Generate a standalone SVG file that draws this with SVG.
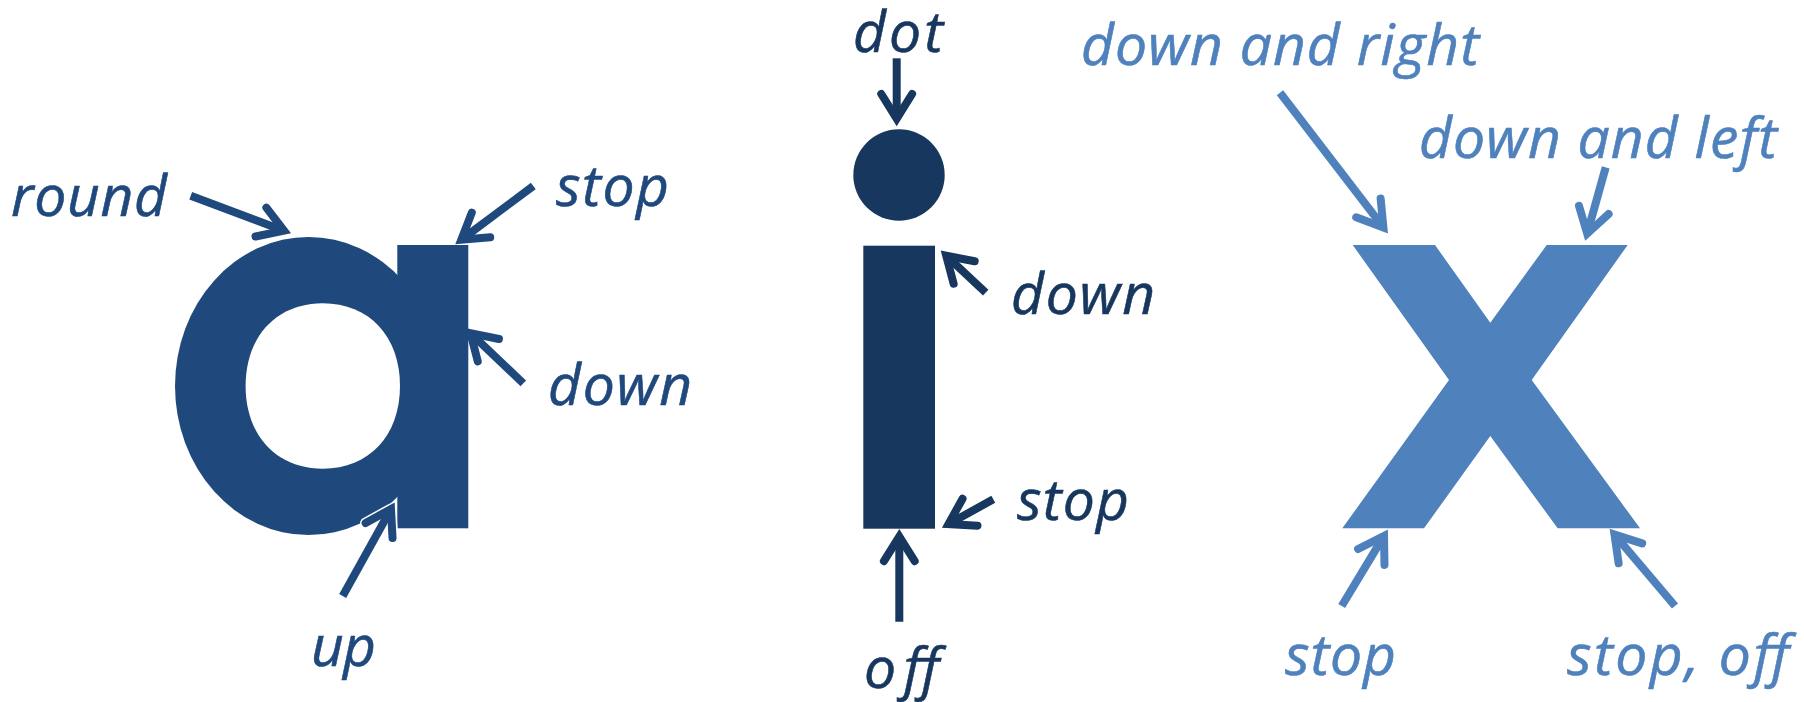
<svg xmlns="http://www.w3.org/2000/svg" width="1804" height="702" viewBox="0 0 1804 702">
  <style>
    text { font-family: "Open Sans", "Liberation Sans", sans-serif; font-style: italic; font-size: 57px; stroke-width: 0.6; }
    .ca { fill: #1F497D; }
    .ci { fill: #17375E; }
    .cx { fill: #4F81BD; }
    text.ca { stroke: #1F497D; }
    text.ci { stroke: #17375E; }
    text.cx { stroke: #4F81BD; }
    .la { fill: none; stroke: #1F497D; stroke-width: 8; stroke-linecap: butt; marker-end: url(#ha); }
    .li { fill: none; stroke: #17375E; stroke-width: 8; stroke-linecap: butt; marker-end: url(#hi); }
    .lx { fill: none; stroke: #4F81BD; stroke-width: 8; stroke-linecap: butt; marker-end: url(#hx); }
    .halo { fill: none; stroke: #FFFFFF; stroke-width: 11; stroke-linecap: butt; marker-end: url(#hw); }
  </style>
  <defs>
    <marker id="ha" markerUnits="userSpaceOnUse" orient="auto" viewBox="-40 -25 50 50" markerWidth="50" markerHeight="50" refX="0" refY="0" overflow="visible">
      <path d="M-24.6,-15.4 L0,0 L-24.6,15.4" fill="none" stroke="#1F497D" stroke-width="8" stroke-linecap="round" stroke-linejoin="miter"/>
    </marker>
    <marker id="hi" markerUnits="userSpaceOnUse" orient="auto" viewBox="-40 -25 50 50" markerWidth="50" markerHeight="50" refX="0" refY="0" overflow="visible">
      <path d="M-24.6,-15.4 L0,0 L-24.6,15.4" fill="none" stroke="#17375E" stroke-width="8" stroke-linecap="round" stroke-linejoin="miter"/>
    </marker>
    <marker id="hx" markerUnits="userSpaceOnUse" orient="auto" viewBox="-40 -25 50 50" markerWidth="50" markerHeight="50" refX="0" refY="0" overflow="visible">
      <path d="M-24.6,-15.4 L0,0 L-24.6,15.4" fill="none" stroke="#4F81BD" stroke-width="8" stroke-linecap="round" stroke-linejoin="miter"/>
    </marker>
    <marker id="hw" markerUnits="userSpaceOnUse" orient="auto" viewBox="-40 -25 50 50" markerWidth="50" markerHeight="50" refX="0" refY="0" overflow="visible">
      <path d="M-24.6,-15.4 L0,0 L-24.6,15.4" fill="none" stroke="#FFFFFF" stroke-width="11" stroke-linecap="round" stroke-linejoin="round"/>
    </marker>
  </defs>
  <rect x="0" y="0" width="1804" height="702" fill="#FFFFFF"/>

  <g id="node-a">
    <ellipse class="ca" cx="308.5" cy="386" rx="133.5" ry="149"/>
    <rect class="ca" x="397.3" y="245" width="71" height="283.3"/>
    <path d="M245.6,386 C245.6,336.4 276.5,303.3 322.8,303.3 C369.1,303.3 400,336.4 400,386 C400,435.6 369.1,468.7 322.8,468.7 C276.5,468.7 245.6,435.6 245.6,386 Z" fill="#FFFFFF"/>
  </g>

  <g id="node-i">
    <circle class="ci" cx="899" cy="175" r="45.7"/>
    <rect class="ci" x="863.3" y="245.7" width="71.7" height="283"/>
  </g>

  <g id="node-x">
    <polygon class="cx" points="1352.7,245 1435,245 1490.3,322.7 1546.7,245 1627.7,245 1531.7,380 1640,528.3 1557.7,528.3 1490.3,436 1424,528.3 1342.3,528.3 1449,380"/>
  </g>

  <g id="connectors">
    <path class="halo" d="M342.7,596 L391,509"/>
    <path class="la" d="M190.7,195.7 L284,230.7"/>
    <path class="la" d="M533.3,186 L461.3,239.7"/>
    <path class="la" d="M523.3,383.3 L470.5,333.2"/>
    <path class="la" d="M342.7,596 L391,509"/>
    <path class="li" d="M896.7,58.3 L896.7,118.6"/>
    <path class="li" d="M985.7,292.7 L946.2,255.7"/>
    <path class="li" d="M993.3,499.3 L948.5,524.1"/>
    <path class="li" d="M899.3,621.7 L899.3,536.6"/>
    <path class="lx" d="M1280,92.7 L1383.4,227.4"/>
    <path class="lx" d="M1605.7,167.3 L1587.2,233.6"/>
    <path class="lx" d="M1341.7,606 L1384,535.9"/>
    <path class="lx" d="M1675,606 L1614.5,534.6"/>
  </g>

  <g id="labels-a">
    <text class="ca" x="11" y="216" textLength="156">round</text>
    <text class="ca" x="556" y="206" textLength="113">stop</text>
    <text class="ca" x="548" y="405" textLength="144">down</text>
    <text class="ca" x="311" y="666" textLength="65">up</text>
  </g>
  <g id="labels-i">
    <text class="ci" x="853" y="52" textLength="90">dot</text>
    <text class="ci" x="1011" y="314" textLength="144">down</text>
    <text class="ci" x="1017" y="520" textLength="112">stop</text>
    <text class="ci" x="864" y="688" textLength="75">off</text>
  </g>
  <g id="labels-x">
    <text class="cx" x="1081" y="65" textLength="398">down and right</text>
    <text class="cx" x="1419" y="158" textLength="358">down and left</text>
    <text class="cx" x="1285" y="675" textLength="111">stop</text>
    <text class="cx" x="1567" y="675" textLength="222">stop, off</text>
  </g>
</svg>
